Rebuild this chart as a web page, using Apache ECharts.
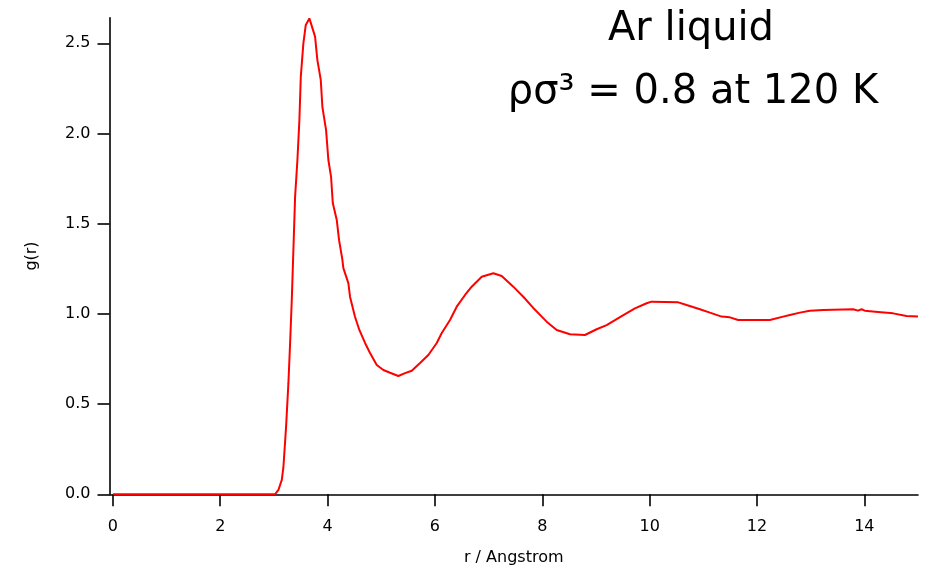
<!DOCTYPE html>
<html>
<head>
<meta charset="utf-8">
<script src="https://cdn.jsdelivr.net/npm/echarts@6/dist/echarts.min.js"></script>
<style>html,body{margin:0;padding:0;background:#fff}#c{width:931px;height:570px}</style>
</head>
<body>
<div id="c"></div>
<script>
const rValues = [0, 3.02, 3.084, 3.147, 3.177, 3.227, 3.270, 3.302, 3.333, 3.363, 3.395, 3.438, 3.475, 3.501, 3.549, 3.594, 3.661, 3.767, 3.810, 3.873, 3.903, 3.972, 4.015, 4.065, 4.097, 4.171, 4.214, 4.276, 4.294, 4.387, 4.419, 4.512, 4.592, 4.698, 4.791, 4.916, 5.039, 5.164, 5.318, 5.443, 5.568, 5.723, 5.877, 6.034, 6.127, 6.281, 6.406, 6.561, 6.685, 6.872, 7.088, 7.244, 7.460, 7.646, 7.832, 8.082, 8.268, 8.516, 8.795, 9.013, 9.199, 9.479, 9.726, 9.944, 10.037, 10.533, 10.689, 10.937, 11.123, 11.341, 11.495, 11.650, 12.240, 12.488, 12.613, 12.799, 12.985, 13.233, 13.791, 13.885, 13.948, 14.009, 14.257, 14.536, 14.786, 15.0];
const gValues = [0, 0, 0.024, 0.08, 0.15, 0.375, 0.616, 0.839, 1.077, 1.354, 1.650, 1.853, 2.075, 2.315, 2.500, 2.602, 2.638, 2.537, 2.407, 2.297, 2.148, 2.019, 1.853, 1.760, 1.615, 1.521, 1.409, 1.300, 1.254, 1.171, 1.094, 0.983, 0.911, 0.839, 0.783, 0.717, 0.689, 0.674, 0.656, 0.672, 0.685, 0.728, 0.772, 0.839, 0.894, 0.966, 1.040, 1.105, 1.151, 1.206, 1.225, 1.210, 1.151, 1.095, 1.033, 0.957, 0.911, 0.887, 0.883, 0.915, 0.938, 0.988, 1.031, 1.059, 1.068, 1.064, 1.049, 1.026, 1.007, 0.985, 0.981, 0.966, 0.966, 0.985, 0.994, 1.007, 1.018, 1.022, 1.026, 1.018, 1.026, 1.018, 1.011, 1.003, 0.988, 0.986];
const xTicks = [0, 2, 4, 6, 8, 10, 12, 14];
const yTicks = [0, 0.5, 1.0, 1.5, 2.0, 2.5];
const titleLine1 = 'Ar liquid';
const titleLine2 = 'ρσ³ = 0.8 at 120 K';
const xName = 'r / Angstrom';
const yName = 'g(r)';

const chart = echarts.init(document.getElementById('c'), null, {renderer: 'canvas'});
const axisFont = '"DejaVu Sans", sans-serif';
const titleFont = '40px "DejaVu Sans", sans-serif';
chart.setOption({
  animation: false,
  backgroundColor: '#fff',
  grid: {left: 109.5, right: 13, top: 17.7, bottom: 75.7, containLabel: false, outerBoundsMode: 'none'},
  xAxis: {
    type: 'value', min: -0.063, max: 15,
    splitLine: {show: false},
    axisLine: {onZero: false, lineStyle: {color: '#000', width: 1.6}},
    axisTick: {show: true, length: 12, customValues: xTicks, lineStyle: {color: '#000', width: 1.6}},
    axisLabel: {customValues: xTicks, margin: 25, color: '#000', fontSize: 16, fontFamily: axisFont, formatter: v => String(v)},
    name: xName, nameLocation: 'middle', nameGap: 56,
    nameTextStyle: {color: '#000', fontSize: 16, fontFamily: axisFont}
  },
  yAxis: {
    type: 'value', min: 0, max: 2.642,
    splitLine: {show: false},
    axisLine: {show: true, onZero: false, lineStyle: {color: '#000', width: 1.6}},
    axisTick: {show: true, length: 12, customValues: yTicks, lineStyle: {color: '#000', width: 1.6}},
    axisLabel: {customValues: yTicks, margin: 19, color: '#000', fontSize: 16, fontFamily: axisFont, formatter: v => v.toFixed(1)},
    name: yName, nameLocation: 'middle', nameGap: 70, nameRotate: 90,
    nameTextStyle: {color: '#000', fontSize: 16, fontFamily: axisFont}
  },
  graphic: [
    {type: 'text', x: 691, y: 30, style: {text: titleLine1, font: titleFont, fill: '#000', textAlign: 'center', textVerticalAlign: 'middle'}},
    {type: 'text', x: 693, y: 93, style: {text: titleLine2, font: titleFont, fill: '#000', textAlign: 'center', textVerticalAlign: 'middle'}}
  ],
  series: [{
    type: 'line',
    data: rValues.map((r, i) => [r, gValues[i]]),
    showSymbol: false,
    lineStyle: {color: '#ff0000', width: 2},
    itemStyle: {color: '#ff0000'},
    z: 5
  }]
});
</script>
</body>
</html>
